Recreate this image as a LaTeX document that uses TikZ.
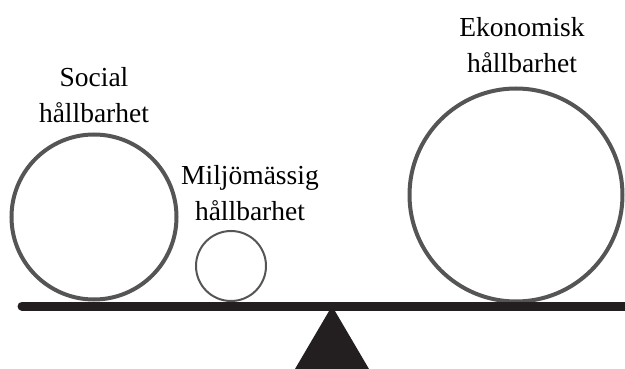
\documentclass[tikz,border=0pt]{standalone}
\usepackage{fontspec}
\setmainfont{Liberation Serif}
\definecolor{ringgray}{HTML}{555555}
\definecolor{beamblack}{HTML}{231F20}
\tikzset{
  ring/.style={circle, draw=ringgray, line width=4pt, inner sep=0pt},
  thinring/.style={ring, line width=2pt},
  label/.style={align=center, inner sep=0pt, anchor=base,
    font=\fontsize{27.5}{36}\selectfont}
}
\begin{document}
\begin{tikzpicture}[x=1pt, y=-1pt]
  \useasboundingbox (0,0) rectangle (625,369);
  % balls on the beam
  \node[ring, minimum size=165pt] (social) at (94,217) {};
  \node[thinring, minimum size=70pt] (miljo) at (231,266) {};
  \node[ring, minimum size=213pt] (ekonomi) at (516,195) {};
  % labels
  \node[label] (socialtext) at (94,123) {Social\\hållbarhet};
  \node[label] (miljotext) at (250,221) {Miljömässig\\hållbarhet};
  \node[label] (ekonomitext) at (522,73) {Ekonomisk\\hållbarhet};
  % beam and fulcrum
  \coordinate (beamleft) at (22,306);
  \coordinate (beamright) at (630,306);
  \draw[beamblack, line width=9pt, line cap=round] (beamleft) -- (beamright);
  \coordinate (apex) at (332,306);
  \coordinate (baseleft) at (295,369);
  \coordinate (baseright) at (369,369);
  \fill[beamblack] (apex) -- (baseright) -- (baseleft) -- cycle;
\end{tikzpicture}
\end{document}
